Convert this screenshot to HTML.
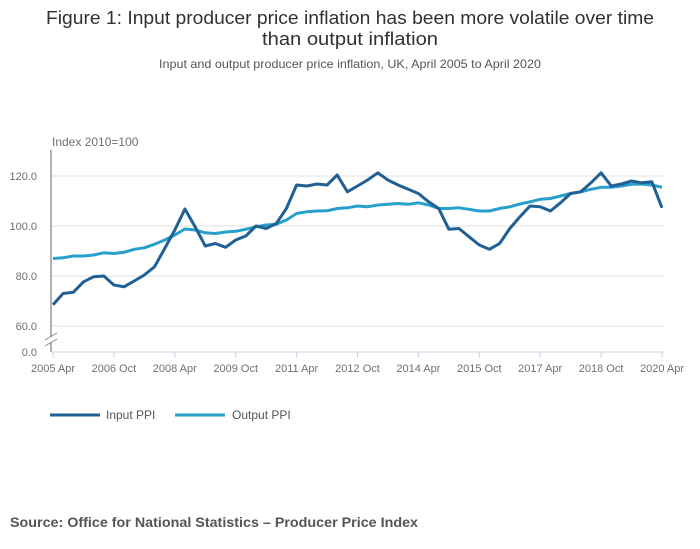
<!DOCTYPE html>
<html><head><meta charset="utf-8"><style>
body{margin:0;background:#fff;font-family:"Liberation Sans",sans-serif;}
svg{display:block}
</style></head><body>
<svg width="700" height="549" viewBox="0 0 700 549">
<text x="350" y="24" text-anchor="middle" font-size="18" fill="#323132" textLength="608" lengthAdjust="spacingAndGlyphs">Figure 1: Input producer price inflation has been more volatile over time</text>
<text x="350" y="45" text-anchor="middle" font-size="18" fill="#323132" textLength="176" lengthAdjust="spacingAndGlyphs">than output inflation</text>
<text x="350" y="68" text-anchor="middle" font-size="12" fill="#555" textLength="382" lengthAdjust="spacingAndGlyphs">Input and output producer price inflation, UK, April 2005 to April 2020</text>
<text x="52" y="146" font-size="12" fill="#707070">Index 2010=100</text>
<g id="grid"></g>
<g id="xaxis"></g>
<g id="series"></g>
<line x1="51" y1="150" x2="51" y2="352" stroke="#666" stroke-width="1"/>
<line x1="45" y1="343" x2="57" y2="336" stroke="#fff" stroke-width="4"/>
<line x1="45" y1="340" x2="57" y2="333" stroke="#888" stroke-width="1"/>
<line x1="45" y1="346" x2="57" y2="339" stroke="#888" stroke-width="1"/>
<g>
<line x1="50" y1="415" x2="100" y2="415" stroke="#206095" stroke-width="3"/>
<text x="106" y="419" font-size="12" fill="#555">Input PPI</text>
<line x1="175" y1="415" x2="225" y2="415" stroke="#27a0cc" stroke-width="3"/>
<text x="232" y="419" font-size="12" fill="#555">Output PPI</text>
</g>
<text x="10" y="527" font-size="14" font-weight="bold" fill="#555" textLength="408" lengthAdjust="spacingAndGlyphs">Source: Office for National Statistics – Producer Price Index</text>
</svg>
<script>
const yTicks=[0,60,80,100,120];
const yTickLabels=["0.0","60.0","80.0","100.0","120.0"];
const xTickMonths=[0,18,36,54,72,90,108,126,144,162,180];
const xTickLabels=["2005 Apr","2006 Oct","2008 Apr","2009 Oct","2011 Apr","2012 Oct","2014 Apr","2015 Oct","2017 Apr","2018 Oct","2020 Apr"];
const stepMonths=3;
const inputPPI=[68.5,73,73.5,77.7,79.7,80,76.4,75.7,78,80.4,83.7,91,98.4,106.8,99.7,92,93,91.5,94.4,96,100,99,101,107,116.4,116,116.8,116.4,120.4,113.7,116,118.4,121.3,118.4,116.4,114.7,113,109.7,107,98.7,99,95.7,92.4,90.7,93,99,103.7,108,107.7,106,109.3,113,113.7,117.3,121.3,116,116.8,118,117.3,117.7,107.3];
const outputPPI=[87,87.3,88,88,88.4,89.3,89,89.5,90.7,91.3,92.7,94.4,96.4,98.8,98.4,97.3,97,97.6,97.9,98.7,99.7,100.4,100.7,102.4,105,105.7,106,106.1,107,107.3,108,107.7,108.4,108.7,109,108.7,109.3,108.4,107,107,107.3,106.7,106,106,107,107.7,108.8,109.7,110.7,111,112,113,113.7,114.7,115.5,115.5,116,116.7,116.8,116.4,115.5];
const NS="http://www.w3.org/2000/svg";
function xScale(m){return 53+m*(662-53)/180;}
function yScale(v){return v<=0?352:226-(v-100)*2.5;}
const grid=document.getElementById('grid');
yTicks.forEach((t,i)=>{
  const y=yScale(t);
  if(t>0){const l=document.createElementNS(NS,'line');
  l.setAttribute('x1',51);l.setAttribute('x2',665);l.setAttribute('y1',y);l.setAttribute('y2',y);
  l.setAttribute('stroke','#e0e0e0');
  
  
  grid.appendChild(l);}
  const tx=document.createElementNS(NS,'text');
  tx.setAttribute('x',37);tx.setAttribute('y',y+4);tx.setAttribute('text-anchor','end');
  tx.setAttribute('font-size','11');tx.setAttribute('fill','#707070');
  tx.textContent=yTickLabels[i];
  
  
  grid.appendChild(tx);
});
const xa=document.getElementById('xaxis');
const base=document.createElementNS(NS,'line');
base.setAttribute('x1',51);base.setAttribute('x2',665);base.setAttribute('y1',352);base.setAttribute('y2',352);
base.setAttribute('stroke','#ccd6eb');


xa.appendChild(base);
xTickMonths.forEach((m,i)=>{
  const x=xScale(m);
  const t=document.createElementNS(NS,'line');
  t.setAttribute('x1',x);t.setAttribute('x2',x);t.setAttribute('y1',352);t.setAttribute('y2',358);
  t.setAttribute('stroke','#ccd6eb');
  
  
  xa.appendChild(t);
  const tx=document.createElementNS(NS,'text');
  tx.setAttribute('x',x);tx.setAttribute('y',372);tx.setAttribute('text-anchor','middle');
  tx.setAttribute('font-size','11');tx.setAttribute('fill','#707070');
  tx.textContent=xTickLabels[i];
  
  
  xa.appendChild(tx);
});
const sg=document.getElementById('series');
function drawSeries(vals,color,name){
  const p=document.createElementNS(NS,'polyline');
  p.setAttribute('points',vals.map((v,i)=>xScale(i*stepMonths).toFixed(1)+','+yScale(v).toFixed(1)).join(' '));
  p.setAttribute('fill','none');p.setAttribute('stroke',color);p.setAttribute('stroke-width','3');
  p.setAttribute('stroke-linejoin','round');
  
  
  sg.appendChild(p);
}
drawSeries(outputPPI,'#27a0cc','output-ppi-line');
drawSeries(inputPPI,'#206095','input-ppi-line');
</script>
</body></html>
